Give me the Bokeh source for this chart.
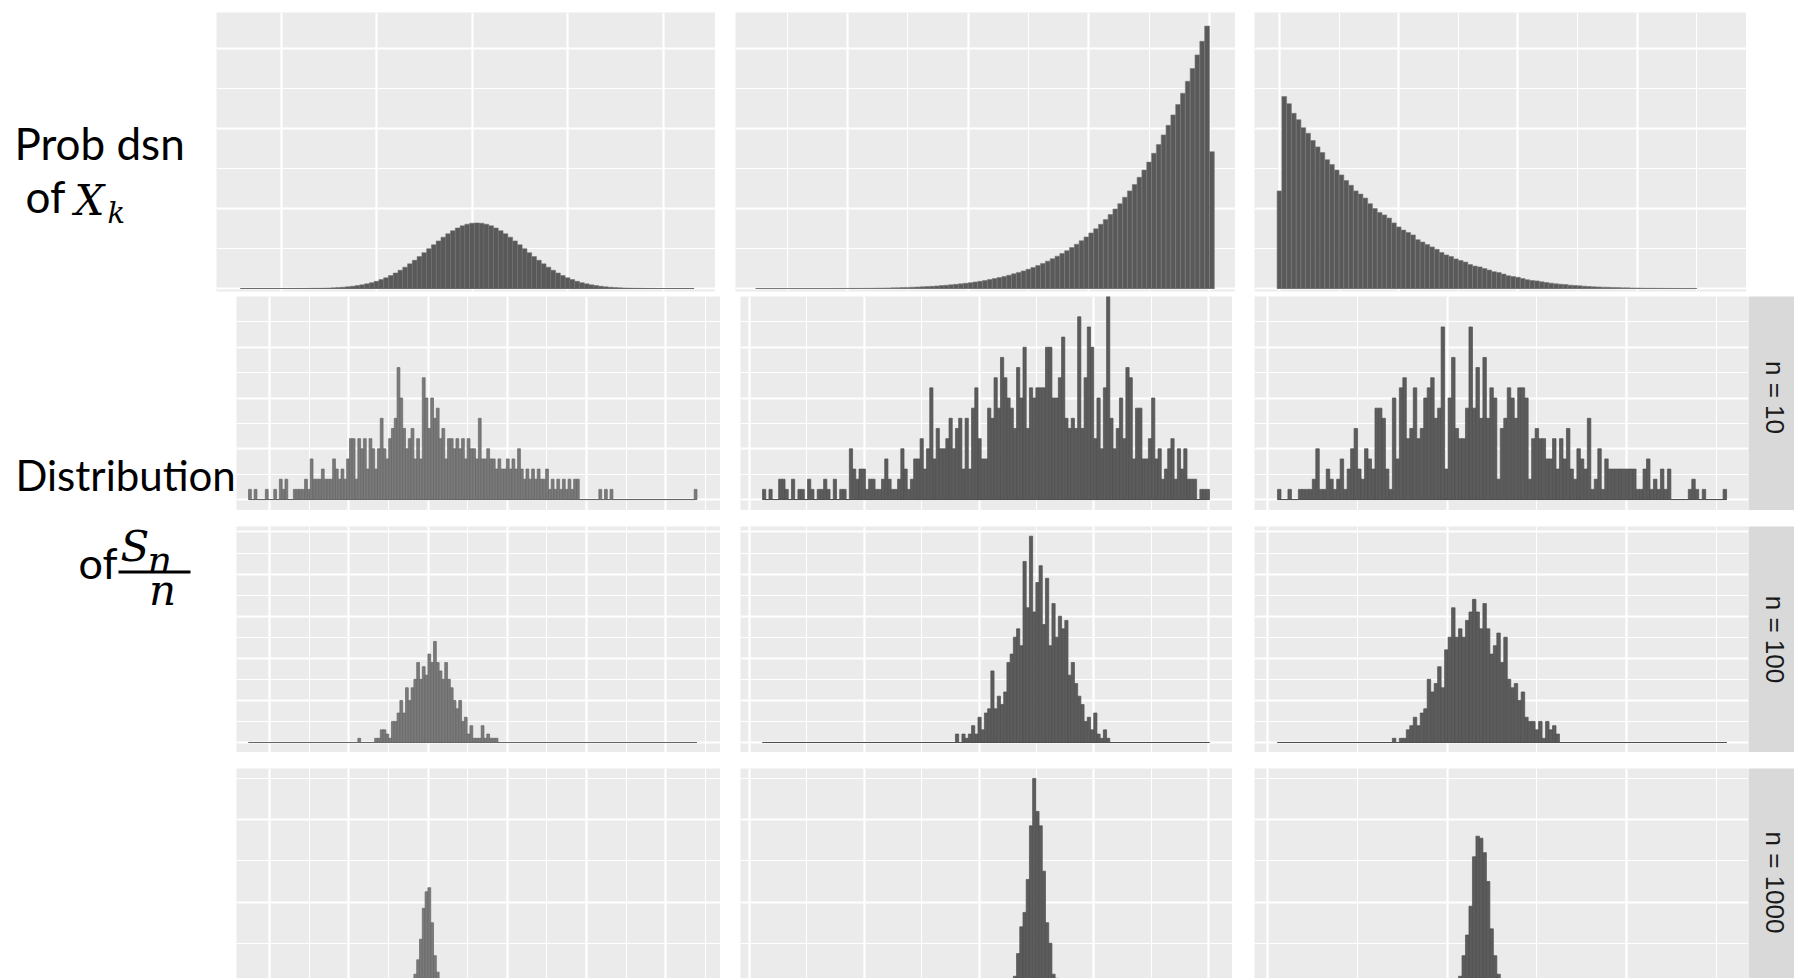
import math
import numpy as np
from bokeh.plotting import figure
from bokeh.models import Range1d, Grid, FixedTicker, Label, BoxAnnotation
from bokeh.layouts import row, column
from bokeh.embed import file_html
from bokeh.resources import INLINE

# ---------------- DATA ----------------
# Top row: probability distribution of X_k (histogram heights, density-like units)
normal_lo, normal_w = -4.85, 0.1
normal_h = [0, 0, 0, 0, 0, 0, 0, 0, 0, 0, 0, 0,
            0.001, 0.001, 0.002, 0.003, 0.004, 0.005, 0.007, 0.009, 0.012, 0.016,
            0.021, 0.028, 0.036, 0.046, 0.058, 0.073, 0.090, 0.111, 0.134, 0.162,
            0.194, 0.228, 0.267, 0.308, 0.353, 0.399, 0.448, 0.498, 0.547, 0.595,
            0.642, 0.685, 0.723, 0.757, 0.784, 0.804, 0.816, 0.820, 0.816, 0.804,
            0.784, 0.757, 0.723, 0.685, 0.642, 0.595, 0.547, 0.498, 0.448, 0.399,
            0.353, 0.308, 0.267, 0.228, 0.194, 0.162, 0.134, 0.111, 0.090, 0.073,
            0.058, 0.046, 0.036, 0.028, 0.021, 0.016, 0.012, 0.009, 0.007, 0.005,
            0.004, 0.003, 0.002, 0.001, 0.001,
            0, 0, 0, 0, 0, 0, 0, 0]

skew_lo, skew_w = 0.06, 0.01
skew_h = [0] * 14 + [0, 0, 0.001, 0.001, 0.001, 0.002, 0.002, 0.002, 0.003, 0.003,
          0.004, 0.005, 0.006, 0.007, 0.008, 0.010, 0.012, 0.014, 0.016, 0.018,
          0.021, 0.024, 0.027, 0.031, 0.036, 0.041, 0.046, 0.052, 0.058, 0.065,
          0.073, 0.081, 0.090, 0.100, 0.112, 0.124, 0.137, 0.151, 0.166, 0.183,
          0.201, 0.220, 0.241, 0.263, 0.288, 0.314, 0.342, 0.372, 0.404, 0.438,
          0.473, 0.512, 0.553, 0.597, 0.644, 0.694, 0.746, 0.802, 0.861, 0.925,
          0.994, 1.06, 1.14, 1.22, 1.30, 1.39, 1.48, 1.58, 1.69, 1.80,
          1.92, 2.04, 2.17, 2.30, 2.44, 2.59, 2.75, 2.92, 3.09, 3.28,
          1.71]

exp_lo, exp_w = -0.04, 0.08
exp_h = [1.22, 2.40, 2.31, 2.19, 2.11, 2.01, 1.94, 1.85, 1.77, 1.70,
         1.61, 1.55, 1.48, 1.42, 1.35, 1.29, 1.22, 1.18, 1.13, 1.06,
         1.00, 0.95, 0.92, 0.88, 0.82, 0.77, 0.73, 0.70, 0.67, 0.61,
         0.58, 0.55, 0.52, 0.49, 0.45, 0.42, 0.40, 0.37, 0.35, 0.33,
         0.30, 0.28, 0.27, 0.25, 0.23, 0.21, 0.20, 0.18, 0.16, 0.15,
         0.14, 0.125, 0.11, 0.10, 0.095, 0.083, 0.075, 0.067, 0.058, 0.054,
         0.050, 0.042, 0.038, 0.033, 0.029, 0.025, 0.021, 0.019, 0.017, 0.015,
         0.013, 0.011, 0.009, 0.008, 0.007, 0.006, 0.005, 0.004, 0.004, 0.003,
         0.003, 0.002, 0.002, 0.002, 0.001, 0.001, 0.001, 0.001]

# Lower grid: distribution of S_n / n (counts per bin); bins shared within a column
col1_lo, col1_hi, col1_nbins = -2.266, 3.396, 160
col2_lo, col2_hi, col2_nbins = 0.2227, 1.0017, 139
col3_lo, col3_hi, col3_nbins = 0.0557, 2.556, 129

n_labels = ["n = 10", "n = 100", "n = 1000"]

c1_n10 = [1, 0, 1, 0, 0, 0, 1, 0, 0, 1, 0, 2, 1, 2, 0, 0, 1, 1, 1, 1,
          2, 1, 4, 2, 2, 2, 3, 2, 2, 2, 4, 3, 2, 3, 2, 4, 6, 6, 2, 6,
          5, 6, 3, 6, 5, 3, 5, 8, 5, 4, 6, 7, 8, 13, 10, 7, 5, 6, 7, 4,
          6, 4, 12, 10, 7, 10, 8, 9, 6, 7, 4, 6, 6, 5, 6, 5, 6, 4, 6, 5,
          5, 4, 8, 4, 4, 5, 4, 4, 3, 4, 3, 3, 4, 3, 4, 3, 5, 3, 2, 3,
          2, 3, 2, 3, 2, 2, 3, 1, 2, 1, 2, 1, 2, 1, 2, 1, 2, 2, 0, 0,
          0, 0, 0, 0, 0, 1, 0, 1, 0, 1] + [0] * 29 + [1]
c1_n100_start = 39
c1_n100 = [1, 0, 0, 0, 0, 0, 1, 1, 3, 3, 2, 1, 5, 5, 7, 10, 7, 13, 10, 13,
           15, 19, 15, 18, 16, 21, 19, 24, 19, 17, 15, 19, 15, 13, 10, 8, 10, 5, 6, 2,
           4, 1, 1, 1, 4, 1, 2, 1, 1, 1]
c1_n1000_start = 58
c1_n1000 = [2, 5, 12, 22, 37, 45, 47, 30, 14, 6, 2]

c2_n10 = [1, 0, 1, 0, 0, 2, 2, 1, 0, 2, 0, 1, 1, 0, 2, 1, 0, 1, 1, 2,
          1, 0, 2, 0, 1, 1, 0, 5, 3, 2, 3, 3, 1, 2, 2, 1, 1, 2, 4, 2,
          1, 1, 2, 5, 3, 1, 2, 4, 4, 6, 3, 5, 11, 4, 7, 5, 5, 6, 8, 5,
          7, 8, 3, 8, 3, 9, 11, 6, 4, 4, 9, 8, 12, 9, 14, 12, 10, 9, 7, 13,
          10, 15, 7, 11, 10, 11, 11, 11, 15, 15, 10, 10, 12, 16, 8, 7, 8, 7, 18, 7,
          12, 17, 15, 6, 10, 5, 11, 20, 8, 5, 7, 10, 6, 13, 12, 4, 9, 9, 4, 4,
          6, 10, 4, 5, 2, 3, 5, 6, 2, 5, 3, 5, 2, 2, 2, 0, 1, 1, 1]
c2_n100_start = 60
c2_n100 = [2, 0, 2, 1, 2, 4, 2, 6, 3, 7, 8, 17, 8, 11, 9, 12, 19, 21, 25, 27,
           23, 43, 32, 49, 31, 38, 42, 28, 39, 23, 33, 25, 30, 27, 29, 16, 19, 14, 11, 9,
           5, 6, 3, 7, 2, 1, 3, 1]
c2_n1000_start = 78
c2_n1000 = [4, 15, 28, 35, 51, 77, 100, 84, 77, 55, 30, 20, 5, 3]

c3_n10 = [1, 0, 0, 1, 0, 0, 1, 1, 1, 1, 2, 5, 1, 1, 3, 2, 1, 2, 4, 1,
          3, 5, 7, 3, 2, 5, 4, 3, 9, 9, 8, 3, 1, 10, 4, 11, 12, 6, 7, 11,
          6, 7, 10, 11, 12, 8, 9, 17, 3, 10, 14, 7, 6, 6, 9, 17, 9, 13, 8, 14,
          8, 11, 10, 2, 7, 8, 11, 10, 8, 11, 11, 10, 2, 6, 7, 6, 6, 4, 4, 6,
          3, 6, 4, 7, 3, 2, 5, 4, 3, 8, 1, 2, 5, 1, 4, 3, 3, 3, 3, 3,
          3, 3, 3, 1, 1, 3, 4, 1, 2, 1, 3, 1, 3, 0, 0, 0, 0, 0, 1, 2,
          1, 0, 1, 0, 0, 0, 0, 0, 1]
c3_n100_start = 33
c3_n100 = [1, 0, 1, 1, 3, 4, 6, 4, 7, 8, 15, 12, 14, 18, 13, 22, 25, 32, 25, 27,
           25, 29, 31, 34, 31, 27, 33, 27, 21, 23, 26, 19, 25, 15, 13, 14, 10, 12, 6, 5,
           5, 3, 5, 1, 5, 3, 4, 2]
c3_n1000_start = 52
c3_n1000 = [4, 14, 24, 38, 62, 72, 71, 64, 50, 27, 14, 5, 2]

# ---------------- STYLE / LAYOUT ----------------
BG = "#EBEBEB"
STRIP = "#D9D9D9"
MAJ_W, MIN_W = 2.2, 1.1
SANS = "Lato"
MATH = "DejaVu Serif"


def blank_fig(w, h, xr, yr, bl=0, bt=0, bb=0, bg="white"):
    p = figure(width=w + bl, height=h + bt + bb, x_range=Range1d(*xr), y_range=Range1d(*yr),
               x_axis_location=None, y_axis_location=None, toolbar_location=None,
               tools="", output_backend="svg", title=None,
               min_border_left=bl, min_border_top=bt, min_border_right=0, min_border_bottom=bb)
    for g in list(p.grid):
        g.visible = False
    p.background_fill_color = bg
    p.border_fill_color = "white"
    p.outline_line_color = None
    return p


def add_grid(p, dim, majors, minors):
    g = Grid(dimension=dim, ticker=FixedTicker(ticks=majors, minor_ticks=minors),
             grid_line_color="white", grid_line_width=MAJ_W,
             minor_grid_line_color="white", minor_grid_line_width=MIN_W)
    p.add_layout(g)


def draw_hist(p, lo, width, heights, fill, line, lw):
    h = np.asarray(heights, dtype=float)
    left = lo + width * np.arange(len(h))
    p.line(x=[left[0], left[-1] + width], y=[0, 0], line_color=line, line_width=1)
    p.quad(left=left, right=left + width, bottom=0, top=h,
           fill_color=fill, line_color=line, line_width=lw)


def place(nbins, start, vals):
    arr = np.zeros(nbins)
    vals = np.asarray(vals, dtype=float)[: max(0, nbins - start)]
    arr[start:start + len(vals)] = vals
    return arr


def txt(p, x, y, s, font, size, style="normal", align="left"):
    p.add_layout(Label(x=x, y=y, text=s, text_font=font, text_font_size=f"{size}px",
                       text_font_style=style, text_baseline="alphabetic", text_align=align,
                       text_color="black"))


# ---- top row ----
TOP_Y = (-0.0375, 3.45)
top_ymaj, top_ymin = [0, 1, 2, 3], [0.5, 1.5, 2.5]

t1 = blank_fig(499, 279, (-5.351, 5.099), TOP_Y, bl=0, bt=12, bb=5, bg=BG)
add_grid(t1, 0, [-4, -2, 0, 2, 4], [])
add_grid(t1, 1, top_ymaj, top_ymin)
draw_hist(t1, normal_lo, normal_w, normal_h, "#595959", "#6e6e6e", 0.5)

t2 = blank_fig(500, 279, (0.018, 1.0539), TOP_Y, bl=20, bt=12, bb=5, bg=BG)
add_grid(t2, 0, [0.25, 0.5, 0.75, 1.0], [0.125, 0.375, 0.625, 0.875])
add_grid(t2, 1, top_ymaj, top_ymin)
draw_hist(t2, skew_lo, skew_w, skew_h, "#595959", "#7a7a7a", 0.6)

t3 = blank_fig(492, 279, (-0.419, 7.836), TOP_Y, bl=19, bt=12, bb=5, bg=BG)
add_grid(t3, 0, [0, 2, 4, 6], [1, 3, 5, 7])
add_grid(t3, 1, top_ymaj, top_ymin)
draw_hist(t3, exp_lo, exp_w, exp_h, "#595959", "#7a7a7a", 0.6)

# label area, coordinates = page pixels (y downwards)
lab_top = blank_fig(216, 296, (0, 216), (296, 0))
txt(lab_top, 14, 138, "Prob dsn", SANS, 44)
txt(lab_top, 25, 195, "of", SANS, 44)
txt(lab_top, 74, 199, "X", MATH, 42, "italic")
txt(lab_top, 107, 213, "k", MATH, 29, "italic")

top_row = row(lab_top, t1, t2, t3)

# ---- lower grid ----
R2_Y, R3_Y, R4_Y = (-1.08, 20.0), (-2.375, 51.3), (2.91, 104.85)
r_grids = [([0, 5, 10, 15, 20], [2.5, 7.5, 12.5, 17.5]),
           ([0, 10, 20, 30, 40, 50], [5, 15, 25, 35, 45]),
           ([0, 40, 80], [20, 60, 100])]
r_ys = [R2_Y, R3_Y, R4_Y]
r_h = [214, 226, 210]
r_bt = [0, 16, 16]

cols = [
    dict(xr=(-2.418, 3.693), w=484, bl=0, xmaj=[-2, -1, 0, 1, 2, 3],
         xmin=[-1.5, -0.5, 0.5, 1.5, 2.5, 3.5], lo=col1_lo, hi=col1_hi, nb=col1_nbins,
         data=[place(col1_nbins, 0, c1_n10), place(col1_nbins, c1_n100_start, c1_n100),
               place(col1_nbins, c1_n1000_start, c1_n1000)],
         fill="#7a7a7a", line="#666666"),
    dict(xr=(0.1843, 1.0418), w=492, bl=20, xmaj=[0.2, 0.4, 0.6, 0.8, 1.0],
         xmin=[0.3, 0.5, 0.7, 0.9], lo=col2_lo, hi=col2_hi, nb=col2_nbins,
         data=[place(col2_nbins, 0, c2_n10), place(col2_nbins, c2_n100_start, c2_n100),
               place(col2_nbins, c2_n1000_start, c2_n1000)],
         fill="#5c5c5c", line="#4f4f4f"),
    dict(xr=(-0.0724, 2.678), w=494, bl=22, xmaj=[0, 1, 2], xmin=[0.5, 1.5, 2.5],
         lo=col3_lo, hi=col3_hi, nb=col3_nbins,
         data=[place(col3_nbins, 0, c3_n10), place(col3_nbins, c3_n100_start, c3_n100),
               place(col3_nbins, c3_n1000_start, c3_n1000)],
         fill="#5c5c5c", line="#4f4f4f"),
]

col_layouts = []
for c in cols:
    figs = []
    width = (c["hi"] - c["lo"]) / c["nb"]
    for r in range(3):
        p = blank_fig(c["w"], r_h[r], c["xr"], r_ys[r], bl=c["bl"], bt=r_bt[r], bg=BG)
        add_grid(p, 0, c["xmaj"], c["xmin"])
        add_grid(p, 1, r_grids[r][0], r_grids[r][1])
        draw_hist(p, c["lo"], width, c["data"][r], c["fill"], c["line"], 0.7)
        figs.append(p)
    col_layouts.append(column(*figs))

strip_text_y = [113, 113, 96]
strips = []
for r in range(3):
    s = blank_fig(46, r_h[r], (0, 46), (0, r_h[r]), bl=0, bt=r_bt[r], bg=STRIP)
    s.add_layout(Label(x=26, y=strip_text_y[r], text=n_labels[r], angle=-math.pi / 2,
                       text_align="center", text_baseline="middle",
                       text_font="Liberation Sans", text_font_size="26px", text_color="#1A1A1A"))
    strips.append(s)
strip_col = column(*strips)

lab_bot = blank_fig(236, 682, (0, 236), (978, 296))
txt(lab_bot, 15, 474, "Distribution", SANS, 42)
txt(lab_bot, 78, 562, "of", SANS, 43)
txt(lab_bot, 120, 546, "S", MATH, 42, "italic")
txt(lab_bot, 147, 559, "n", MATH, 38, "italic")
lab_bot.add_layout(BoxAnnotation(left=118, right=190, bottom=573, top=570,
                                 fill_color="black", fill_alpha=1.0, line_color=None))
txt(lab_bot, 162, 590, "n", MATH, 42, "italic", align="center")

bottom_row = row(lab_bot, *col_layouts, strip_col)

layout = column(top_row, bottom_row)

open("out.html", "w").write(file_html(layout, INLINE))
